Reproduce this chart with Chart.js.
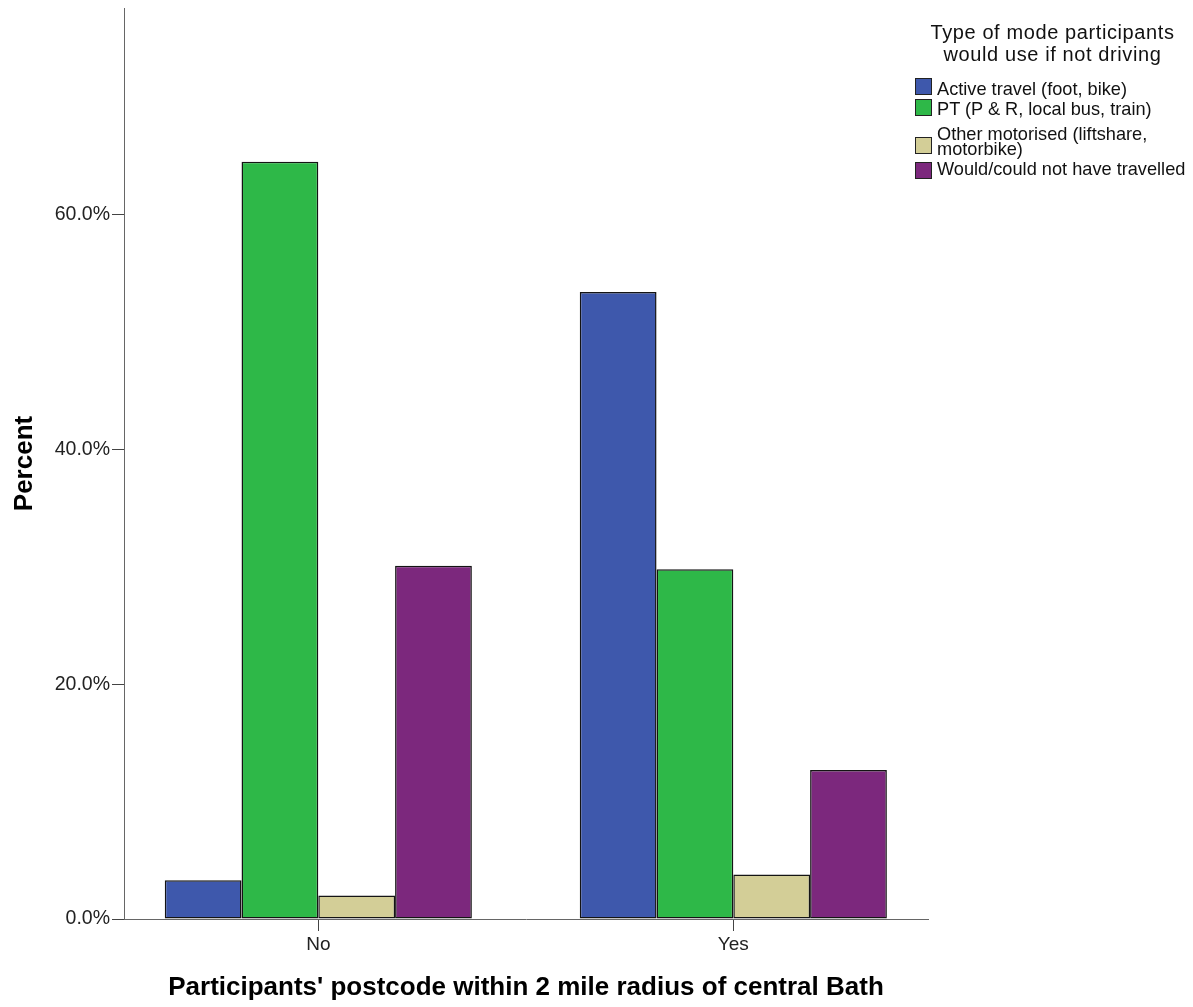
<!DOCTYPE html>
<html>
<head>
<meta charset="utf-8">
<script src="https://cdn.jsdelivr.net/npm/chart.js@4.4.1/dist/chart.umd.min.js"></script>
<style>
  html, body { margin: 0; padding: 0; background: #ffffff; }
  #wrap { position: relative; width: 1193px; height: 1007px; overflow: hidden; }
  #c { position: absolute; left: 0; top: 0; }
  #legend { position: absolute; left: 0; top: 0; width: 1193px; height: 0; font-family: "Liberation Sans", Arial, sans-serif; color: #111; }
  .lg-title { position: absolute; left: 912px; width: 281px; top: 22.2px; text-align: center; font-size: 20px; line-height: 21.7px; letter-spacing: 0.6px; }
  .lg-item { position: absolute; left: 915px; width: 278px; height: 30px; }
  .lg-box { position: absolute; left: 0; width: 15px; height: 15px; border: 1px solid #222; }
  .lg-text { position: absolute; left: 22px; top: 0; width: 256px; font-size: 18.2px; line-height: 21px; }
  .lg-text.wrap { line-height: 15px; }
</style>
</head>
<body>
<div id="wrap">
  <canvas id="c" width="1193" height="1007"></canvas>
  <div id="legend"></div>
</div>
<script>
// ---- data ----
const categories = ["No", "Yes"];
const seriesNames = [
  "Active travel (foot, bike)",
  "PT (P & R, local bus, train)",
  "Other motorised (liftshare, motorbike)",
  "Would/could not have travelled"
];
const activeTravel = [3.3, 53.4];
const publicTransport = [64.5, 29.8];
const otherMotorised = [2.0, 3.8];
const couldNotTravel = [30.1, 12.7];
const yTickValues = [0, 20, 40, 60];
const yMax = 77.6;
const xTitle = "Participants' postcode within 2 mile radius of central Bath";
const yTitle = "Percent";
const legendTitle = ["Type of mode participants", "would use if not driving"];

// ---- styling ----
const colors = ["#3E58AC", "#2EB848", "#D3CE97", "#7C287D"];
const FONT = '"Liberation Sans", Arial, sans-serif';
const allSeries = [activeTravel, publicTransport, otherMotorised, couldNotTravel];

const datasets = allSeries.map((vals, k) => ({
  label: seriesNames[k],
  data: vals.map((v, i) => ({ x: i, y: v })),
  backgroundColor: colors[k],
  borderColor: "#141414",
  borderWidth: 1.5,
  borderSkipped: false,
  categoryPercentage: 0.74,
  barPercentage: 1.0
}));

const chart = new Chart(document.getElementById("c"), {
  type: "bar",
  data: { datasets },
  options: {
    responsive: false,
    animation: false,
    devicePixelRatio: 1,
    layout: { padding: { top: 8, right: 265, bottom: 0, left: 0 } },
    plugins: { legend: { display: false }, tooltip: { enabled: false } },
    scales: {
      x: {
        type: "linear",
        min: -0.4682,
        max: 1.4691,
        offset: false,
        afterBuildTicks: s => { s.ticks = categories.map((c, i) => ({ value: i })); },
        afterFit: s => { s.height = 88; s.paddingLeft = 0; s.paddingRight = 0; },
        ticks: {
          callback: v => categories[v],
          autoSkip: false, maxRotation: 0,
          font: { family: FONT, size: 19 },
          color: "#222",
          padding: 2
        },
        grid: { display: true, drawOnChartArea: false, drawTicks: true, tickLength: 12, color: "#444", offset: false },
        border: { display: true, color: "#666", width: 1 },
        title: {
          display: true, text: xTitle, color: "#000",
          font: { family: FONT, size: 26, weight: "bold" },
          padding: { top: 0, bottom: 4 }
        }
      },
      y: {
        type: "linear",
        min: 0,
        max: yMax,
        afterBuildTicks: s => { s.ticks = yTickValues.map(v => ({ value: v })); },
        afterFit: s => { s.width = 124; s.paddingTop = 0; s.paddingBottom = 0; },
        ticks: {
          callback: v => v.toFixed(1) + "%",
          font: { family: FONT, size: 19.5 },
          color: "#222",
          padding: 2
        },
        grid: { display: true, drawOnChartArea: false, drawTicks: true, tickLength: 12, color: "#444" },
        border: { display: true, color: "#666", width: 1 },
        title: {
          display: true, text: yTitle, color: "#000",
          font: { family: FONT, size: 26, weight: "bold" },
          padding: { top: 9, bottom: 0 }
        }
      }
    }
  }
});

// ---- HTML legend built from the chart's datasets ----
(function buildLegend() {
  const host = document.getElementById("legend");
  const t = document.createElement("div");
  t.className = "lg-title";
  t.innerHTML = legendTitle.join("<br>");
  host.appendChild(t);
  const itemTops = [79, 99.3, 127, 159.3];
  const boxOffsets = [-1, -0.3, 9.5, 3.2];
  chart.data.datasets.forEach((ds, k) => {
    const item = document.createElement("div");
    item.className = "lg-item";
    item.style.top = itemTops[k] + "px";
    const box = document.createElement("div");
    box.className = "lg-box";
    box.style.background = ds.backgroundColor;
    box.style.top = boxOffsets[k] + "px";
    const txt = document.createElement("div");
    txt.className = "lg-text" + (k === 2 ? " wrap" : "");
    txt.textContent = ds.label;
    item.appendChild(box);
    item.appendChild(txt);
    host.appendChild(item);
  });
})();
</script>
</body>
</html>
